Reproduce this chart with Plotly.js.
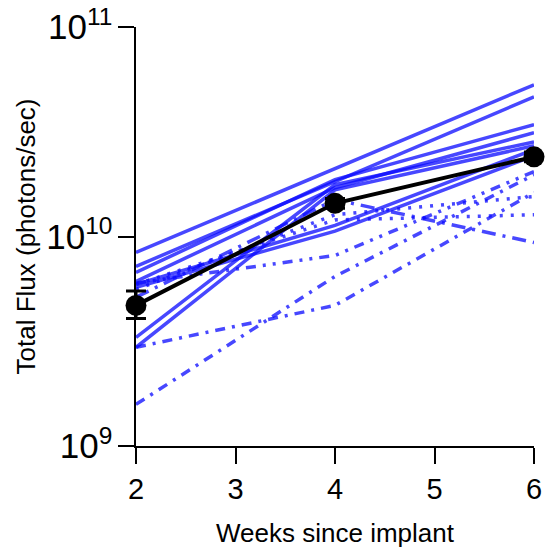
<!DOCTYPE html>
<html>
<head>
<meta charset="utf-8">
<script src="https://cdn.plot.ly/plotly-3.0.1.min.js"></script>
<style>html,body{margin:0;padding:0;background:#fff;}#chart{width:545px;height:553px;}</style>
</head>
<body>
<div id="chart"></div>
<script>
// Weeks since implant
var weeks = [2, 4, 6];

// Individual animals, solid lines (Total Flux, photons/sec)
var solid1 = [8.39e9, 2.11e10, 5.30e10];
var solid2 = [7.20e9, 1.83e10, 4.64e10];
var solid3 = [6.74e9, 1.87e10, 3.42e10];
var solid4 = [6.11e9, 1.71e10, 3.13e10];
var solid5 = [3.30e9, 1.77e10, 2.83e10];
var solid6 = [2.96e9, 1.67e10, 2.71e10];
var solid7 = [5.91e9, 1.13e10, 2.60e10];
var solid8 = [5.72e9, 1.06e10, 2.43e10];

// Individual animals, broken lines
var dotted1 = [5.91e9, 1.20e10, 1.27e10];
var dashDotDot1 = [6.00e9, 8.12e9, 2.04e10];
var dashDot1 = [2.96e9, 4.69e9, 1.62e10];
var dashDot2 = [1.58e9, 6.45e9, 1.97e10];
var longDashDot1 = [5.13e9, 1.50e10, 9.36e9];
var dotted2 = [5.59e9, 1.27e10, 1.55e10];

// Group mean with error
var meanFlux = [4.69e9, 1.44e10, 2.40e10];
var errPlus = [0.80e9, 0.8e9, 1.3e9];
var errMinus = [0.63e9, 0.75e9, 1.25e9];

var tickVals = [2, 3, 4, 5, 6];

var blue = 'rgba(10,10,255,0.75)';
var solidSeries = [solid1, solid2, solid3, solid4, solid5, solid6, solid7, solid8];
var brokenSeries = [
  {y: dotted1, dash: '3px,8px'},
  {y: dashDotDot1, dash: '10px,7px,3px,7px,3px,7px'},
  {y: dashDot1, dash: '10px,7px,3px,7px'},
  {y: dashDot2, dash: '10px,7px,3px,7px'},
  {y: longDashDot1, dash: '14px,7px,3px,7px'},
  {y: dotted2, dash: '3px,8px'}
];

var traces = [];
brokenSeries.forEach(function (s) {
  traces.push({x: weeks, y: s.y, type: 'scatter', mode: 'lines',
    line: {color: blue, width: 3.5, dash: s.dash}, hoverinfo: 'skip', showlegend: false});
});
solidSeries.forEach(function (s) {
  traces.push({x: weeks, y: s, type: 'scatter', mode: 'lines',
    line: {color: blue, width: 3.5}, hoverinfo: 'skip', showlegend: false});
});
// mean drawn on a twin x axis whose area extends a little left, so the error-bar cap at week 2 is not clipped
traces.push({
  x: weeks, y: meanFlux, xaxis: 'x2', yaxis: 'y', type: 'scatter', mode: 'lines+markers',
  line: {color: '#000', width: 4},
  marker: {color: '#000', size: 21},
  error_y: {type: 'data', array: errPlus, arrayminus: errMinus, color: '#000', thickness: 3, width: 10},
  cliponaxis: false, showlegend: false
});

var W = 545, ML = 116, MR = 11;
var plotW = W - ML - MR;        // 418
var pad = 20;                   // extra room left of the axis for the twin axis
var mainW = plotW - pad;        // 398
var xMin = 2, xMax = 6;
var x2Min = xMin - pad * (xMax - xMin) / mainW;

var font = 'Liberation Sans, Arial, Helvetica, sans-serif';
var layout = {
  width: W, height: 553,
  margin: {l: ML, r: MR, t: 27, b: 107},
  paper_bgcolor: '#fff', plot_bgcolor: 'rgba(0,0,0,0)',
  showlegend: false,
  font: {family: font, color: '#000'},
  xaxis: {
    domain: [pad / plotW, 1],
    range: [xMin, xMax], tickvals: tickVals, ticktext: tickVals.map(String),
    showgrid: false, zeroline: false, showline: true, linecolor: '#000', linewidth: 2,
    ticks: 'outside', ticklen: 16, tickwidth: 2, tickcolor: '#000',
    tickfont: {size: 29, family: font, color: '#000'},
    title: {text: 'Weeks since implant', font: {size: 26, family: font, color: '#000'}, standoff: 20}
  },
  xaxis2: {
    domain: [0, 1], range: [x2Min, xMax], anchor: 'y', visible: false,
    showgrid: false, zeroline: false
  },
  yaxis: {
    type: 'log', range: [9, 11], dtick: 1, exponentformat: 'power', showexponent: 'all',
    anchor: 'x',
    showgrid: false, zeroline: false, showline: true, linecolor: '#000', linewidth: 2,
    ticks: 'outside', ticklen: 16, tickwidth: 2, tickcolor: '#000',
    tickfont: {size: 28, family: font, color: '#000'},
    title: {text: 'Total Flux (photons/sec)', font: {size: 26, family: font, color: '#000'}, standoff: 3}
  }
};

Plotly.newPlot('chart', traces, layout, {displayModeBar: false, staticPlot: true});
</script>
</body>
</html>
